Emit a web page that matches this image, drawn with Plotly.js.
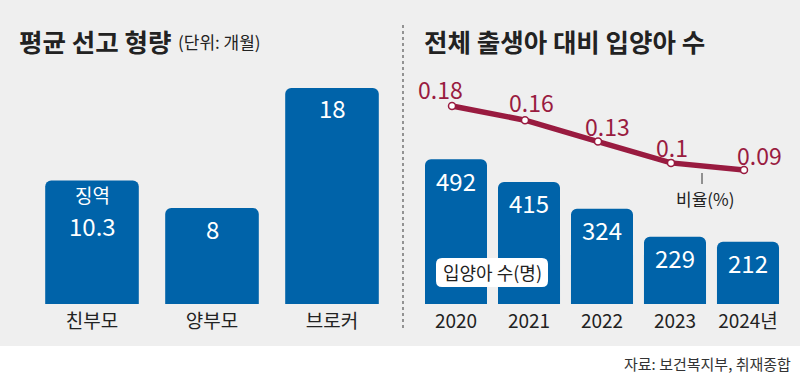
<!DOCTYPE html>
<html><head><meta charset="utf-8">
<script src="https://cdn.plot.ly/plotly-3.0.1.min.js"></script>
<style>html,body{margin:0;padding:0;background:#fff}#chart{width:800px;height:375px}</style>
</head><body><div id="chart"></div>
<script>
const sentenceCats = ['친부모', '양부모', '브로커'];
const sentenceMonths = [10.3, 8, 18];
const sentenceNotes = ['징역', '', ''];
const years = ['2020', '2021', '2022', '2023', '2024'];
const yearLabels = ['2020', '2021', '2022', '2023', '2024년'];
const adoptees = [492, 415, 324, 229, 212];
const adoptRatio = [0.18, 0.16, 0.13, 0.1, 0.09];
const ratioLabels = ['0.18', '0.16', '0.13', '0.1', '0.09'];

const W = 800, H = 375;
const px = x => x / W, py = y => 1 - y / H;
const FONT = '"Noto Sans CJK KR", "Noto Sans", sans-serif';
const BLUE = '#0063a9', RED = '#991b40', INK = '#222222';
const labelOffset = [[-12, 17], [6, 18], [9, 16], [1, 16], [15, 15]];

const plotTop = 70, plotBottom = 304, plotH = plotBottom - plotTop;
const yDom = [py(plotBottom), py(plotTop)];

function roundRect(x0, y0, x1, y1, r) {
  const P = (x, y) => px(x) + ',' + py(y);
  return 'M' + P(x0 + r, y0) + ' L' + P(x1 - r, y0) + ' Q' + P(x1, y0) + ' ' + P(x1, y0 + r) +
    ' L' + P(x1, y1 - r) + ' Q' + P(x1, y1) + ' ' + P(x1 - r, y1) +
    ' L' + P(x0 + r, y1) + ' Q' + P(x0, y1) + ' ' + P(x0, y1 - r) +
    ' L' + P(x0, y0 + r) + ' Q' + P(x0, y0) + ' ' + P(x0 + r, y0) + ' Z';
}

const traces = [
  { type: 'bar', x: sentenceCats, y: sentenceMonths, xaxis: 'x', yaxis: 'y',
    width: 0.78, marker: { color: BLUE, cornerradius: 6 }, hoverinfo: 'skip' },
  { type: 'bar', x: yearLabels, y: adoptees, xaxis: 'x2', yaxis: 'y2',
    width: 0.85, marker: { color: BLUE, cornerradius: 6 }, hoverinfo: 'skip' },
  { type: 'scatter', mode: 'lines+markers', x: years, y: adoptRatio, xaxis: 'x3', yaxis: 'y3',
    line: { color: RED, width: 5.5 }, marker: { size: 7, color: '#ffffff', line: { color: RED, width: 1.5 } },
    hoverinfo: 'skip' }
];

const annotations = [];
// titles
annotations.push({ xref: 'paper', yref: 'paper', x: px(17), y: py(40), xanchor: 'left', yanchor: 'middle',
  text: '<b>평균 선고 형량</b>', showarrow: false, font: { family: FONT, size: 25.5, color: INK } });
annotations.push({ xref: 'paper', yref: 'paper', x: px(176), y: py(42), xanchor: 'left', yanchor: 'middle',
  text: '(단위: 개월)', showarrow: false, font: { family: FONT, size: 17, color: INK } });
annotations.push({ xref: 'paper', yref: 'paper', x: px(422), y: py(40), xanchor: 'left', yanchor: 'middle',
  text: '<b>전체 출생아 대비 입양아 수</b>', showarrow: false, font: { family: FONT, size: 25.5, color: INK } });
// left bar values
sentenceCats.forEach((c, i) => {
  if (sentenceNotes[i]) {
    annotations.push({ xref: 'x', yref: 'y', x: i, y: sentenceMonths[i], yshift: -14, yanchor: 'middle',
      text: sentenceNotes[i], showarrow: false, font: { family: FONT, size: 19, color: '#ffffff' } });
    annotations.push({ xref: 'x', yref: 'y', x: i, y: sentenceMonths[i], yshift: -45, yanchor: 'middle',
      text: String(sentenceMonths[i]), showarrow: false, font: { family: FONT, size: 24, color: '#ffffff' } });
  } else {
    annotations.push({ xref: 'x', yref: 'y', x: i, y: sentenceMonths[i], yshift: -20, yanchor: 'middle',
      text: String(sentenceMonths[i]), showarrow: false, font: { family: FONT, size: 24, color: '#ffffff' } });
  }
});
// right bar values and ratio labels
years.forEach((yr, i) => {
  annotations.push({ xref: 'x2', yref: 'y2', x: i, y: adoptees[i], yshift: -21, yanchor: 'middle',
    text: String(adoptees[i]), showarrow: false, font: { family: FONT, size: 24, color: '#ffffff' } });
  annotations.push({ xref: 'x3', yref: 'y3', x: i, y: adoptRatio[i], xshift: labelOffset[i][0], yshift: labelOffset[i][1],
    yanchor: 'middle', text: ratioLabels[i], showarrow: false, font: { family: FONT, size: 23, color: RED } });
});
annotations.push({ xref: 'paper', yref: 'paper', x: px(705), y: py(198), xanchor: 'center', yanchor: 'middle',
  text: '비율(%)', showarrow: false, font: { family: FONT, size: 17, color: INK } });
annotations.push({ xref: 'paper', yref: 'paper', x: px(492), y: py(272), xanchor: 'center', yanchor: 'middle',
  text: '입양아 수(명)', showarrow: false, font: { family: FONT, size: 18, color: INK } });
annotations.push({ xref: 'paper', yref: 'paper', x: px(793), y: py(363), xanchor: 'right', yanchor: 'middle',
  text: '자료: 보건복지부, 취재종합', showarrow: false, font: { family: FONT, size: 15, color: '#333333' } });

const shapes = [
  { type: 'rect', xref: 'paper', yref: 'paper', x0: 0, x1: 1, y0: py(346), y1: 1,
    fillcolor: '#efefef', line: { width: 0 }, layer: 'below' },
  { type: 'line', xref: 'paper', yref: 'paper', x0: px(403), x1: px(403), y0: py(25), y1: py(328),
    line: { color: '#555555', width: 1.2, dash: 'dot' } },
  { type: 'line', xref: 'paper', yref: 'paper', x0: px(702), x1: px(702), y0: py(173), y1: py(184),
    line: { color: '#333333', width: 1 } },
  { type: 'path', xref: 'paper', yref: 'paper', path: roundRect(436, 258, 548, 287, 6),
    fillcolor: '#ffffff', line: { width: 0 } }
];

const tickFont = { family: FONT, size: 19, color: INK };
const layout = {
  width: W, height: H,
  margin: { l: 0, r: 0, t: 0, b: 0 },
  paper_bgcolor: '#ffffff', plot_bgcolor: 'rgba(0,0,0,0)',
  showlegend: false,
  xaxis: { domain: [px(32), px(392)], anchor: 'y', type: 'category', range: [-0.5, 2.5], showgrid: false, zeroline: false,
    showline: false, ticks: '', ticklabelstandoff: 4, tickfont: tickFont, fixedrange: true },
  yaxis: { domain: yDom, anchor: 'x', range: [0, plotH / 12], visible: false, fixedrange: true },
  xaxis2: { domain: [px(419.5), px(784.5)], anchor: 'y2', type: 'category', range: [-0.5, 4.5], showgrid: false, zeroline: false,
    showline: false, ticks: '', ticklabelstandoff: 4, tickfont: tickFont, fixedrange: true },
  yaxis2: { domain: yDom, anchor: 'x2', range: [0, plotH / 0.294], visible: false, fixedrange: true },
  xaxis3: { domain: [px(415.5), px(780.5)], anchor: 'y3', type: 'category', range: [-0.5, 4.5],
    visible: false, fixedrange: true },
  yaxis3: { domain: yDom, anchor: 'x3', range: [0.18 - (plotBottom - 106) / 711, 0.18 + (106 - plotTop) / 711],
    visible: false, fixedrange: true },
  annotations: annotations,
  shapes: shapes
};

Plotly.newPlot('chart', traces, layout, { displayModeBar: false, staticPlot: true });
</script>
</body></html>
